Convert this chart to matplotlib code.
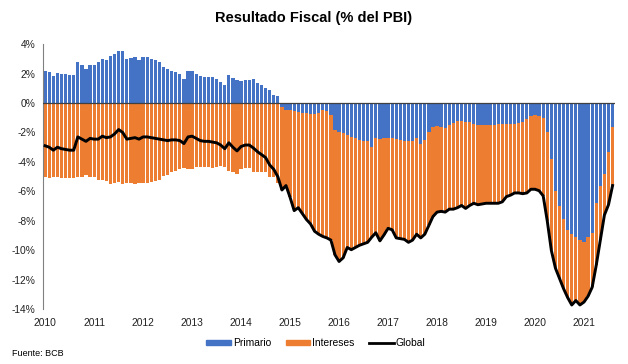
import numpy as np
import matplotlib.pyplot as plt
from matplotlib.lines import Line2D
from matplotlib.patches import Patch

# Datos mensuales, ene-2010 a ago-2021 (% del PBI)
anios = ['2010', '2011', '2012', '2013', '2014', '2015',
         '2016', '2017', '2018', '2019', '2020', '2021']

primario = [
    2.15, 2.1, 1.85, 2.05, 2.0, 1.95, 1.9, 1.9, 2.75, 2.55, 2.3, 2.6,            # 2010
    2.6, 2.75, 3.0, 2.95, 3.2, 3.35, 3.55, 3.5, 3.0, 3.05, 3.15, 2.95,           # 2011
    3.1, 3.1, 3.0, 2.9, 2.75, 2.45, 2.3, 2.2, 2.1, 1.95, 1.65, 2.15,             # 2012
    2.2, 1.95, 1.8, 1.75, 1.75, 1.75, 1.65, 1.45, 1.25, 1.9, 1.7, 1.55,          # 2013
    1.5, 1.55, 1.55, 1.6, 1.35, 1.2, 1.0, 0.85, 0.55, 0.45, -0.3, -0.45,         # 2014
    -0.5, -0.55, -0.6, -0.7, -0.7, -0.72, -0.75, -0.7, -0.5, -0.55, -0.8, -1.8,  # 2015
    -1.95, -2.05, -2.2, -2.3, -2.4, -2.5, -2.55, -2.6, -2.95, -2.4, -2.45, -2.4,  # 2016
    -2.35, -2.4, -2.45, -2.5, -2.6, -2.6, -2.55, -2.4, -2.8, -2.5, -2.0, -1.65,  # 2017
    -1.55, -1.6, -1.7, -1.5, -1.35, -1.2, -1.25, -1.3, -1.3, -1.45, -1.5, -1.5,  # 2018
    -1.5, -1.5, -1.5, -1.45, -1.45, -1.45, -1.4, -1.4, -1.35, -1.3, -1.1, -0.85, # 2019
    -0.8, -0.85, -1.0, -2.0, -3.8, -6.0, -7.0, -7.9, -8.6, -8.9, -9.1, -9.3,     # 2020
    -9.4, -9.1, -8.8, -6.8, -5.6, -4.8, -3.3, -1.6,                              # 2021
]

global_ = [
    -2.9, -3.0, -3.2, -3.0, -3.1, -3.15, -3.2, -3.2, -2.3, -2.45, -2.6, -2.4,          # 2010
    -2.45, -2.45, -2.25, -2.35, -2.3, -2.1, -1.8, -2.0, -2.45, -2.4, -2.35, -2.45,     # 2011
    -2.3, -2.3, -2.35, -2.4, -2.45, -2.5, -2.55, -2.5, -2.5, -2.55, -2.75, -2.3,       # 2012
    -2.25, -2.4, -2.55, -2.6, -2.6, -2.65, -2.7, -2.85, -3.1, -2.7, -3.0, -3.25,       # 2013
    -2.95, -2.85, -2.85, -3.05, -3.3, -3.5, -3.7, -4.2, -4.5, -5.0, -5.9, -5.6,        # 2014
    -6.4, -7.3, -7.1, -7.5, -7.9, -8.2, -8.7, -8.9, -9.05, -9.15, -9.3, -10.3,         # 2015
    -10.75, -10.5, -9.8, -9.95, -9.8, -9.65, -9.55, -9.45, -9.1, -8.8, -9.35, -8.95,   # 2016
    -8.5, -8.6, -9.15, -9.2, -9.25, -9.45, -9.3, -8.9, -9.15, -8.9, -8.3, -7.7,        # 2017
    -7.4, -7.35, -7.4, -7.2, -7.2, -7.1, -6.95, -7.15, -6.95, -6.8, -6.9, -6.85,      # 2018
    -6.8, -6.8, -6.8, -6.8, -6.7, -6.35, -6.25, -6.1, -6.1, -6.15, -6.1, -5.85,       # 2019
    -5.85, -5.95, -6.3, -8.0, -10.0, -11.2, -11.9, -12.6, -13.2, -13.7, -13.4, -13.7,  # 2020
    -13.5, -13.1, -12.5, -11.0, -9.3, -7.6, -6.9, -5.6,                                # 2021
]

primario = np.array(primario)
global_ = np.array(global_)
intereses = global_ - primario
meses = np.arange(len(primario))

azul = '#4472C4'
naranja = '#ED7D31'

plt.rcParams['font.family'] = ['Liberation Sans', 'DejaVu Sans']

fig = plt.figure(figsize=(6.28, 3.64), dpi=100)
ax = fig.add_axes([0.068, 0.150, 0.912, 0.729])

# barras apiladas: los negativos se apilan hacia abajo como en Excel
ax.bar(meses, primario, width=0.8, color=azul, zorder=2)
base = np.minimum(primario, 0)
ax.bar(meses, intereses, bottom=base, width=0.8, color=naranja, zorder=2)
ax.plot(meses, global_, color='black', lw=2.1, zorder=3)

ax.axhline(0, color='#404040', lw=0.9, zorder=4)

ax.set_xlim(-0.6, len(meses) - 0.3)
ax.set_ylim(-14, 4)
ax.set_yticks(np.arange(-14, 5, 2))
ax.set_yticklabels([f'{v}%' for v in range(-14, 5, 2)])
ax.set_xticks(np.arange(0, len(meses), 12))
ax.set_xticklabels(anios)
ax.tick_params(axis='both', length=0, labelsize=7.4, colors='#222222')
ax.tick_params(axis='x', pad=6)
ax.tick_params(axis='y', pad=5)

for s in ['top', 'right', 'bottom']:
    ax.spines[s].set_visible(False)
ax.spines['left'].set_color('#808080')
ax.spines['left'].set_linewidth(0.8)

fig.text(0.5, 0.95, 'Resultado Fiscal (% del PBI)', ha='center', va='center',
         fontsize=10.5, fontweight='bold')

handles = [Patch(color=azul), Patch(color=naranja), Line2D([], [], color='black', lw=2)]
fig.legend(handles, ['Primario', 'Intereses', 'Global'], loc='center',
           bbox_to_anchor=(0.503, 0.057), ncol=3, frameon=False, fontsize=7.4,
           handlelength=2.4, handleheight=0.35, columnspacing=1.4, handletextpad=0.2)

fig.text(0.019, 0.03, 'Fuente: BCB', ha='left', va='center', fontsize=6.5)

fig.savefig('out.png', dpi=100)
